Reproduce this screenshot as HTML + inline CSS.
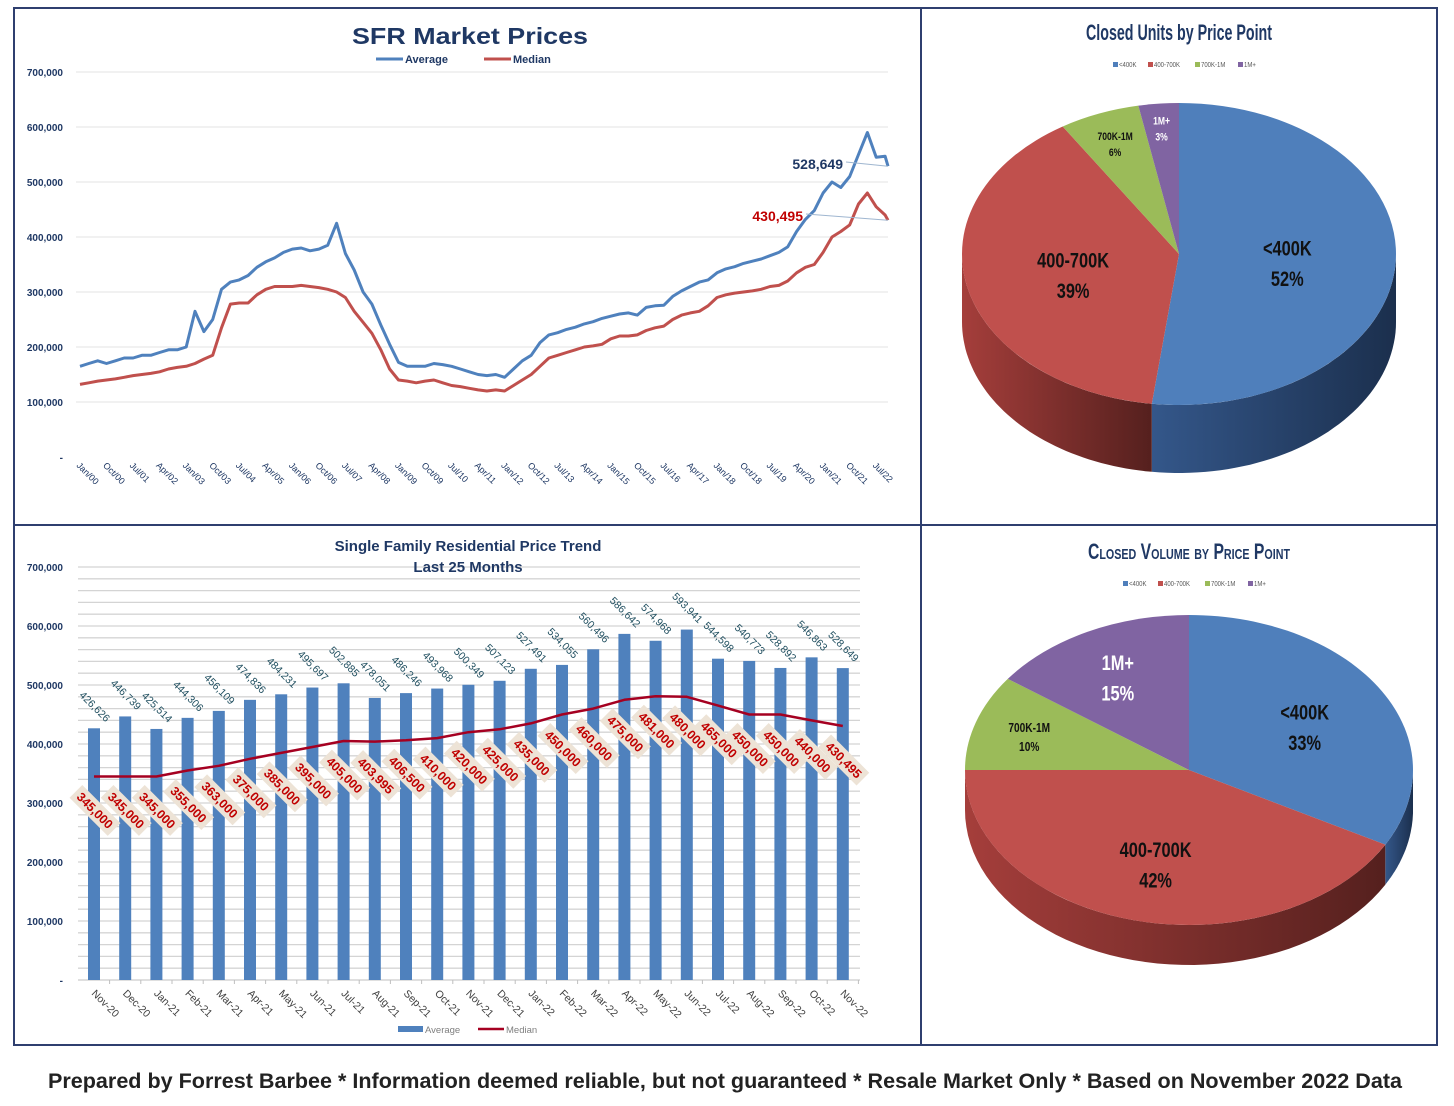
<!DOCTYPE html>
<html><head><meta charset="utf-8"><style>
html,body{margin:0;padding:0;background:#fff;}
svg{display:block;font-family:"Liberation Sans",sans-serif;}
</style></head><body>
<svg id="root" width="1454" height="1106" viewBox="0 0 1454 1106" xmlns="http://www.w3.org/2000/svg">
<defs>
<linearGradient id="sideBlue" x1="0" x2="1" y1="0" y2="0"><stop offset="0" stop-color="#34578a"/><stop offset="1" stop-color="#1b2f4d"/></linearGradient>
<linearGradient id="sideRed" x1="0" x2="1" y1="0" y2="0"><stop offset="0" stop-color="#a53e3b"/><stop offset="1" stop-color="#55201e"/></linearGradient>
</defs>
<rect x="14" y="8" width="1423" height="1037" fill="none" stroke="#2f3f6f" stroke-width="2"/>
<line x1="921" y1="8" x2="921" y2="1045" stroke="#2f3f6f" stroke-width="2"/>
<line x1="14" y1="525" x2="1437" y2="525" stroke="#2f3f6f" stroke-width="2"/>
<g id="top"></g><g id="bottom"></g><g id="pie1"></g><g id="pie2"></g>
<text x="725" y="1088" text-anchor="middle" font-size="21" font-weight="bold" fill="#222" textLength="1354" lengthAdjust="spacingAndGlyphs">Prepared by Forrest Barbee * Information deemed reliable, but not guaranteed * Resale Market Only * Based on November 2022 Data</text>
</svg>
<script>
// ---- SFR Market Prices (quarterly from Jan/00, final point Nov/22) ----
const sfrAvg = [165,170,175,170, 175,180,180,185, 185,190,195,195, 200,265,228,250,
  305,318,322,330, 345,355,362,372, 378,380,375,378, 385,425,370,340,
  300,278,240,205, 172,165,165,165, 170,168,165,160, 155,150,148,150,
  145,160,175,185, 208,222,226,232, 236,242,246,252, 256,260,262,258,
  272,275,276,292, 302,310,318,322, 335,342,346,352, 356,360,366,372,
  382,410,432,448, 480,500,490,510, 550,590,545,547, 528.649];
const sfrMed = [132,135,138,140, 142,145,148,150, 152,155,160,163, 165,170,178,185,
  235,278,280,280, 295,305,310,310, 310,312,310,308, 305,300,290,265,
  245,225,195,160, 140,138,135,138, 140,135,130,128, 125,122,120,122,
  120,130,140,150, 165,180,185,190, 195,200,202,205, 215,220,220,222,
  230,235,238,250, 258,262,265,275, 290,295,298,300, 302,305,310,312,
  320,335,345,350, 372,400,410,422, 460,480,455,440, 430.495];
const sfrTickLabels = ["Jan/00","Oct/00","Jul/01","Apr/02","Jan/03","Oct/03","Jul/04","Apr/05","Jan/06","Oct/06","Jul/07","Apr/08","Jan/09","Oct/09","Jul/10","Apr/11","Jan/12","Oct/12","Jul/13","Apr/14","Jan/15","Oct/15","Jul/16","Apr/17","Jan/18","Oct/18","Jul/19","Apr/20","Jan/21","Oct/21","Jul/22"];
const sfrYTicks = ["-","100,000","200,000","300,000","400,000","500,000","600,000","700,000"];
const sfrLastAvg = "528,649";
const sfrLastMed = "430,495";

// ---- Last 25 months ----
const months = ["Nov-20","Dec-20","Jan-21","Feb-21","Mar-21","Apr-21","May-21","Jun-21","Jul-21","Aug-21","Sep-21","Oct-21","Nov-21","Dec-21","Jan-22","Feb-22","Mar-22","Apr-22","May-22","Jun-22","Jul-22","Aug-22","Sep-22","Oct-22","Nov-22"];
const avg25 = [426626,446739,425514,444306,456109,474836,484231,495697,502885,478051,486246,493968,500349,507123,527491,534055,560496,586642,574968,593941,544598,540773,528892,546863,528649];
const med25 = [345000,345000,345000,355000,363000,375000,385000,395000,405000,403995,406500,410000,420000,425000,435000,450000,460000,475000,481000,480000,465000,450000,450000,440000,430495];

// ---- Pies ----
const pieCats = ["<400K","400-700K","700K-1M","1M+"];
const unitsPct = [52,39,6,3];
const volumePct = [33,42,10,15];

const NS="http://www.w3.org/2000/svg";
function mk(tag, attrs, parent, txt){const e=document.createElementNS(NS,tag);for(const k in attrs)e.setAttribute(k,attrs[k]);if(txt!==undefined)e.textContent=txt;parent.appendChild(e);return e;}
const fmt=v=>Math.round(v).toLocaleString("en-US");

// ===== Top line chart =====
(function(){
  const g=document.getElementById("top");
  const x0=80,x1=888,y0=457,pxPer100k=55;
  const xM=m=>x0+m*(x1-x0)/274;
  const y=v=>y0-v/100*pxPer100k;
  let t=mk("text",{x:470,y:44,"text-anchor":"middle","font-size":"23","font-weight":"bold",fill:"#1f3864",textLength:"236",lengthAdjust:"spacingAndGlyphs"},g,"SFR Market Prices");
  
  
  let l=mk("line",{x1:376,y1:59,x2:403,y2:59,stroke:"#4f81bd","stroke-width":3},g);
  
  
  t=mk("text",{x:405,y:63,"font-size":"11","font-weight":"bold",fill:"#1f3864"},g,"Average");
  
  
  l=mk("line",{x1:484,y1:59,x2:511,y2:59,stroke:"#c0504d","stroke-width":3},g);
  
  
  t=mk("text",{x:513,y:63,"font-size":"11","font-weight":"bold",fill:"#1f3864"},g,"Median");
  
  
  sfrYTicks.forEach((lab,i)=>{
    const yy=y(i*100);
    if(i>0){const gl=mk("line",{x1:x0-4,y1:yy,x2:x1,y2:yy,stroke:"#e3e3e3","stroke-width":1},g);
      
      }
    const tt=mk("text",{x:63,y:yy+4,"text-anchor":"end","font-size":"10","font-weight":"bold",fill:"#1f3864"},g,lab);
    
    
  });
  sfrTickLabels.forEach((lab,i)=>{
    const xx=xM(i*9);
    const tt=mk("text",{x:xx-4,y:466,"font-size":"9",fill:"#1f3864",transform:`rotate(45 ${xx-4} 466)`},g,lab);
    
    
  });
  const pts=arr=>arr.map((v,i)=>{const m=i<arr.length-1?i*3:274;return xM(m).toFixed(1)+","+y(v).toFixed(1);}).join(" ");
  let p=mk("polyline",{points:pts(sfrMed),fill:"none",stroke:"#c0504d","stroke-width":3,"stroke-linejoin":"round"},g);
  
  
  p=mk("polyline",{points:pts(sfrAvg),fill:"none",stroke:"#4f81bd","stroke-width":3,"stroke-linejoin":"round"},g);
  
  
  const la=sfrAvg[sfrAvg.length-1], lm=sfrMed[sfrMed.length-1];
  l=mk("line",{x1:846,y1:162,x2:x1,y2:y(la),stroke:"#9fb6d0","stroke-width":1},g);
  
  
  t=mk("text",{x:843,y:169,"text-anchor":"end","font-size":"14","font-weight":"bold",fill:"#1f3864"},g,sfrLastAvg);
  
  
  l=mk("line",{x1:806,y1:214,x2:x1,y2:y(lm),stroke:"#9fb6d0","stroke-width":1},g);
  
  
  t=mk("text",{x:803,y:221,"text-anchor":"end","font-size":"14","font-weight":"bold",fill:"#c00000"},g,sfrLastMed);
  
  
})();

// ===== Bottom bar chart =====
(function(){
  const g=document.getElementById("bottom");
  const x0=78,x1=860,y0=980,px100k=59,cx0=94,step=31.2,bw=12;
  const y=v=>y0-v/100000*px100k;
  const xc=i=>cx0+i*step;
  for(let v=20000;v<=700000;v+=20000){
    const gl=mk("line",{x1:x0,y1:y(v),x2:x1,y2:y(v),stroke:"#d4d4d4","stroke-width":1.3},g);
    
    
  }
  let t=mk("text",{x:468,y:551,"text-anchor":"middle","font-size":"15","font-weight":"bold",fill:"#1f3864"},g,"Single Family Residential Price Trend");
  
  
  t=mk("text",{x:468,y:572,"text-anchor":"middle","font-size":"15","font-weight":"bold",fill:"#1f3864"},g,"Last 25 Months");
  
  
  for(let i=0;i<=7;i++){
    const tt=mk("text",{x:63,y:y(i*100000)+4,"text-anchor":"end","font-size":"10","font-weight":"bold",fill:"#1f3864"},g,i==0?"-":fmt(i*100000));
    
    
  }
  const ax=mk("line",{x1:x0,y1:y0,x2:x1,y2:y0,stroke:"#bfbfbf","stroke-width":1},g);
  
  
  avg25.forEach((v,i)=>{
    const b=mk("rect",{x:xc(i)-bw/2,y:y(v),width:bw,height:y0-y(v),fill:"#4f81bd"},g);
    
    
    const tk=mk("line",{x1:xc(i)+step/2,y1:y0,x2:xc(i)+step/2,y2:y0+4,stroke:"#bfbfbf"},g);
    
    
    const xl=mk("text",{x:xc(i)-3,y:994,"font-size":"10.5",fill:"#404040",transform:`rotate(45 ${xc(i)-3} 994)`},g,months[i]);
    
    
    const lx=xc(i)+1, ly=y(v)-22;
    const al=mk("text",{x:lx,y:ly+4,"text-anchor":"middle","font-size":"10.5",fill:"#1f4e5f",transform:`rotate(45 ${lx} ${ly})`},g,fmt(v));
    
    
  });
  const pts=med25.map((v,i)=>xc(i)+","+y(v).toFixed(1)).join(" ");
  const pl=mk("polyline",{points:pts,fill:"none",stroke:"#a50021","stroke-width":2.5,"stroke-linejoin":"round"},g);
  
  
  med25.forEach((v,i)=>{
    const lx=xc(i)+1, ly=y(v)+34;
    const lg=mk("g",{transform:`rotate(45 ${lx} ${ly})`},g);
    
    
    const r=mk("rect",{x:lx-27,y:ly-9,width:54,height:18,fill:"#ede3d6"},lg);
    
    
    const tt=mk("text",{x:lx,y:ly+4.5,"text-anchor":"middle","font-size":"12.5","font-weight":"bold",fill:"#c00000"},lg,fmt(v));
    
    
  });
  let r=mk("rect",{x:398,y:1026,width:25,height:6,fill:"#4f81bd"},g);
  
  
  t=mk("text",{x:425,y:1033,"font-size":"9.5",fill:"#7f7f7f"},g,"Average");
  
  
  let l=mk("line",{x1:478,y1:1029,x2:504,y2:1029,stroke:"#a50021","stroke-width":2.5},g);
  
  
  t=mk("text",{x:506,y:1033,"font-size":"9.5",fill:"#7f7f7f"},g,"Median");
  
  
})();

// ===== 3D pies =====
const topColors=["#4f7fbb","#c0504d","#9bbb59","#8064a2"];
const sideFills=["url(#sideBlue)","url(#sideRed)","#6f8a3c","#594673"];
function pie3d(gid,name,title,smallCaps,titleW,ty,ly,cx,cy,rx,ry,depth,vals,labR,labSize,labColor){
  const g=document.getElementById(gid);
  const P=(a,d)=>[cx+rx*Math.sin(a), cy-ry*Math.cos(a)+(d||0)];
  const t=mk("text",{x:cx,y:ty,"text-anchor":"middle","font-size":"22","font-weight":"bold",fill:"#1f3864",textLength:titleW,lengthAdjust:"spacingAndGlyphs"},g,title);
  if(smallCaps)t.setAttribute("style","font-variant:small-caps");
  
  
  let lx=cx-66;
  pieCats.forEach((c,i)=>{
    const s=mk("rect",{x:lx,y:ly-5,width:5,height:5,fill:topColors[i]},g);
    
    
    const tt=mk("text",{x:0,y:0,"font-size":"7.5",fill:"#595959",transform:`translate(${lx+6} ${ly}) scale(0.8 1)`},g,c);
    
    
    lx+=6+c.length*4+9;
  });
  const total=vals.reduce((a,b)=>a+b,0);
  let acc=0; const ang=vals.map(v=>{const s=acc/total*2*Math.PI;acc+=v;return [s,acc/total*2*Math.PI];});
  ang.forEach(([s,e],i)=>{
    const a=Math.max(s,Math.PI/2), b=Math.min(e,1.5*Math.PI);
    if(a>=b)return;
    const top=[],bot=[];
    for(let k=0;k<=48;k++){const th=a+(b-a)*k/48;top.push(P(th));bot.push(P(th,depth));}
    const pts=top.concat(bot.reverse()).map(p=>p[0].toFixed(1)+","+p[1].toFixed(1)).join(" ");
    const sp=mk("polygon",{points:pts,fill:sideFills[i]},g);
    
    
  });
  ang.forEach(([s,e],i)=>{
    const p1=P(s),p2=P(e),large=(e-s)>Math.PI?1:0;
    const sl=mk("path",{d:`M${cx},${cy} L${p1[0]},${p1[1]} A${rx},${ry} 0 ${large} 1 ${p2[0]},${p2[1]} Z`,fill:topColors[i]},g);
    
    
  });
  ang.forEach(([s,e],i)=>{
    const m=(s+e)/2, r=labR[i];
    const x=cx+rx*r*Math.sin(m), y=cy-ry*r*Math.cos(m);
    const fs=labSize[i];
    const a=mk("text",{x:0,y:0,"text-anchor":"middle","font-size":fs,"font-weight":"bold",fill:labColor[i],transform:`translate(${x.toFixed(1)} ${(y-fs*0.15).toFixed(1)}) scale(0.78 1)`},g,pieCats[i]);
    
    
    const b=mk("text",{x:0,y:0,"text-anchor":"middle","font-size":fs,"font-weight":"bold",fill:labColor[i],transform:`translate(${x.toFixed(1)} ${(y+fs*1.3).toFixed(1)}) scale(0.78 1)`},g,vals[i]+"%");
    
    
  });
}
pie3d("pie1","units-pie","Closed Units by Price Point",false,186,40,67,1179,254,217,151,68,unitsPct,[0.5,0.5,0.8,0.85],[21,21,11,11],["#111","#111","#111","#fff"]);
pie3d("pie2","volume-pie","Closed Volume by Price Point",true,202,559,586,1189,770,224,155,40,volumePct,[0.6,0.6,0.75,0.7],[21,21,13,21],["#111","#111","#111","#fff"]);
</script>
</body></html>
